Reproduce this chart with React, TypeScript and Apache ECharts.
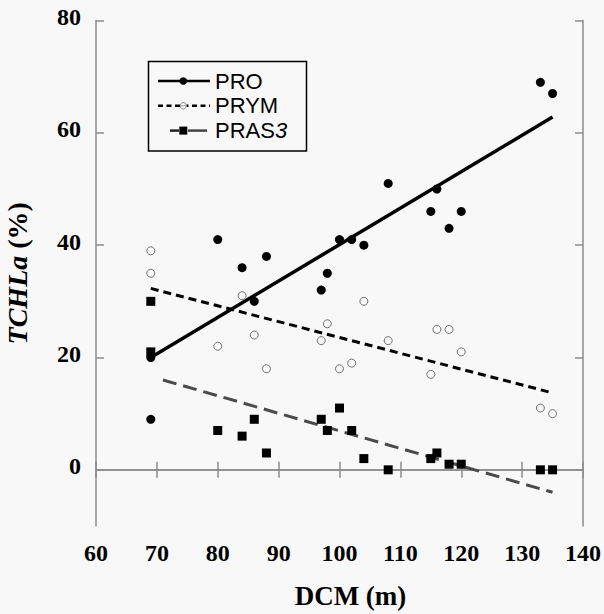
import React, { useEffect, useRef } from "react";
import * as echarts from "echarts";

const xTicks = [60, 70, 80, 90, 100, 110, 120, 130, 140];
const yTicks = [0, 20, 40, 60, 80];

const proPoints: [number, number][] = [
  [69, 20], [69, 9], [80, 41], [84, 36], [86, 30], [88, 38], [97, 32], [98, 35],
  [100, 41], [102, 41], [104, 40], [108, 51], [115, 46], [116, 50], [118, 43],
  [120, 46], [133, 69], [135, 67],
];
const prymPoints: [number, number][] = [
  [69, 39], [69, 35], [80, 22], [84, 31], [86, 24], [88, 18], [97, 23], [98, 26],
  [100, 18], [102, 19], [104, 30], [108, 23], [115, 17], [116, 25], [118, 25],
  [120, 21], [133, 11], [135, 10],
];
const pras3Points: [number, number][] = [
  [69, 30], [69, 21], [80, 7], [84, 6], [86, 9], [88, 3], [97, 9], [98, 7],
  [100, 11], [102, 7], [104, 2], [108, 0], [115, 2], [116, 3], [118, 1],
  [120, 1], [133, 0], [135, 0],
];

const proFit: [number, number][] = [[69, 20], [135, 62.8]];
const prymFit: [number, number][] = [[69, 32.3], [135, 13.7]];
const pras3Fit: [number, number][] = [[71, 16], [135, -4]];

const BG = "#f8f8f8";
const AXIS = "#8c8c8c";
const SERIF = "'Liberation Serif', 'Times New Roman', serif";
const SANS = "'Liberation Sans', Arial, sans-serif";

export default function App() {
  const ref = useRef<HTMLDivElement>(null);
  useEffect(() => {
    if (!ref.current) return;
    const chart = echarts.init(ref.current, null, { renderer: "svg" });
    const axisLine = { show: true, lineStyle: { color: AXIS, width: 1.5 } };
    const tick = { show: true, inside: true, length: 8, lineStyle: { color: AXIS, width: 1.5 } };
    const labelStyle = { color: "#000", fontFamily: SERIF, fontWeight: "bold" as const, fontSize: 24 };
    const legendText = (text: string, y: number) => ({
      type: "text", x: 215, y, z: 10,
      style: {
        text, font: `22px ${SANS}`, fill: "#000", verticalAlign: "middle", align: "left", lineHeight: 21,
        rich: { it: { fontStyle: "italic", fontSize: 22, fontFamily: SANS, fill: "#000", lineHeight: 21 } },
      },
    });
    const r1 = 81, r2 = 105.8, r3 = 130.6;
    chart.setOption({
      animation: false,
      backgroundColor: BG,
      grid: { left: 96, top: 20.5, width: 487, height: 505.5, outerBoundsMode: "none", containLabel: false },
      xAxis: [
        {
          type: "value", min: 60, max: 140, interval: 10, position: "bottom",
          axisLine, axisTick: tick, splitLine: { show: false },
          axisLabel: { ...labelStyle, margin: 15, customValues: xTicks },
          name: "DCM (m)", nameLocation: "middle", nameGap: 56,
          nameTextStyle: { color: "#000", fontFamily: SERIF, fontWeight: "bold", fontSize: 27, padding: [0, 0, 0, 22] },
        },
        {
          type: "value", min: 60, max: 140, interval: 10, position: "top",
          axisLine, axisTick: tick, axisLabel: { show: false }, splitLine: { show: false },
        },
      ],
      yAxis: [
        {
          type: "value", min: -10, max: 80, position: "left",
          axisLine, axisTick: { ...tick, customValues: yTicks }, splitLine: { show: false },
          axisLabel: { ...labelStyle, margin: 15, customValues: yTicks, verticalAlign: "bottom", lineHeight: 7 },
          name: "{i|TCHLa}{n| (%)}", nameLocation: "middle", nameRotate: 90, nameGap: 65,
          nameTextStyle: {
            color: "#000", fontFamily: SERIF, fontWeight: "bold", fontSize: 28,
            rich: {
              i: { fontFamily: SERIF, fontWeight: "bold", fontStyle: "italic", fontSize: 28, color: "#000" },
              n: { fontFamily: SERIF, fontWeight: "bold", fontSize: 28, color: "#000" },
            },
          },
        },
        {
          type: "value", min: -10, max: 80, position: "right",
          axisLine, axisTick: { ...tick, customValues: yTicks }, axisLabel: { show: false }, splitLine: { show: false },
        },
      ],
      series: [
        {
          type: "line", data: proFit, showSymbol: false, symbol: "none", z: 2,
          lineStyle: { color: "#000", width: 3.5 },
        },
        {
          type: "line", data: prymFit, showSymbol: false, symbol: "none", z: 2,
          lineStyle: { color: "#000", width: 3, type: [8, 5] },
        },
        {
          type: "line", data: pras3Fit, showSymbol: false, symbol: "none", z: 2,
          lineStyle: { color: "#4a4a4a", width: 3, type: [14, 7] },
        },
        {
          name: "PRO", type: "scatter", data: proPoints, symbol: "circle", symbolSize: 9, z: 3,
          itemStyle: { color: "#000", opacity: 1 },
        },
        {
          name: "PRYM", type: "scatter", data: prymPoints, symbol: "circle", symbolSize: 8, z: 3,
          itemStyle: { color: "rgba(0,0,0,0)", borderColor: "#707070", borderWidth: 1, opacity: 1 },
        },
        {
          name: "PRAS3", type: "scatter", data: pras3Points, symbol: "rect", symbolSize: 9, z: 3,
          itemStyle: { color: "#000", opacity: 1 },
        },
      ],
      graphic: [
        {
          type: "rect", shape: { x: 148.5, y: 61.5, width: 158, height: 89.5 },
          style: { fill: "none", stroke: "#000", lineWidth: 1.5 }, z: 10,
        },
        { type: "line", shape: { x1: 158, y1: r1, x2: 210, y2: r1 }, style: { stroke: "#000", lineWidth: 2.5 }, z: 10 },
        { type: "circle", shape: { cx: 183.3, cy: r1, r: 3.8 }, style: { fill: "#000" }, z: 11 },
        legendText("PRO", r1),
        { type: "line", shape: { x1: 158, y1: r2, x2: 210, y2: r2 }, style: { stroke: "#000", lineWidth: 2.5, lineDash: [5, 3.5] }, z: 10 },
        { type: "circle", shape: { cx: 183.3, cy: r2, r: 3.2 }, style: { fill: BG, stroke: "#888", lineWidth: 1 }, z: 11 },
        { type: "line", shape: { x1: 180.3, y1: r2, x2: 186.3, y2: r2 }, style: { stroke: "#888", lineWidth: 0.8 }, z: 12 },
        legendText("PRYM", r2),
        { type: "line", shape: { x1: 170, y1: r3, x2: 179, y2: r3 }, style: { stroke: "#222", lineWidth: 2.5 }, z: 10 },
        { type: "line", shape: { x1: 188, y1: r3, x2: 207, y2: r3 }, style: { stroke: "#444", lineWidth: 2.5 }, z: 10 },
        { type: "rect", shape: { x: 179.3, y: r3 - 4, width: 8, height: 8 }, style: { fill: "#000" }, z: 11 },
        legendText("PRAS{it|3}", r3),
      ],
    });
    return () => chart.dispose();
  }, []);
  return (
    <div
      ref={ref}
      style={{ position: "absolute", left: 0, top: 0, width: 604, height: 614, background: BG }}
    />
  );
}
